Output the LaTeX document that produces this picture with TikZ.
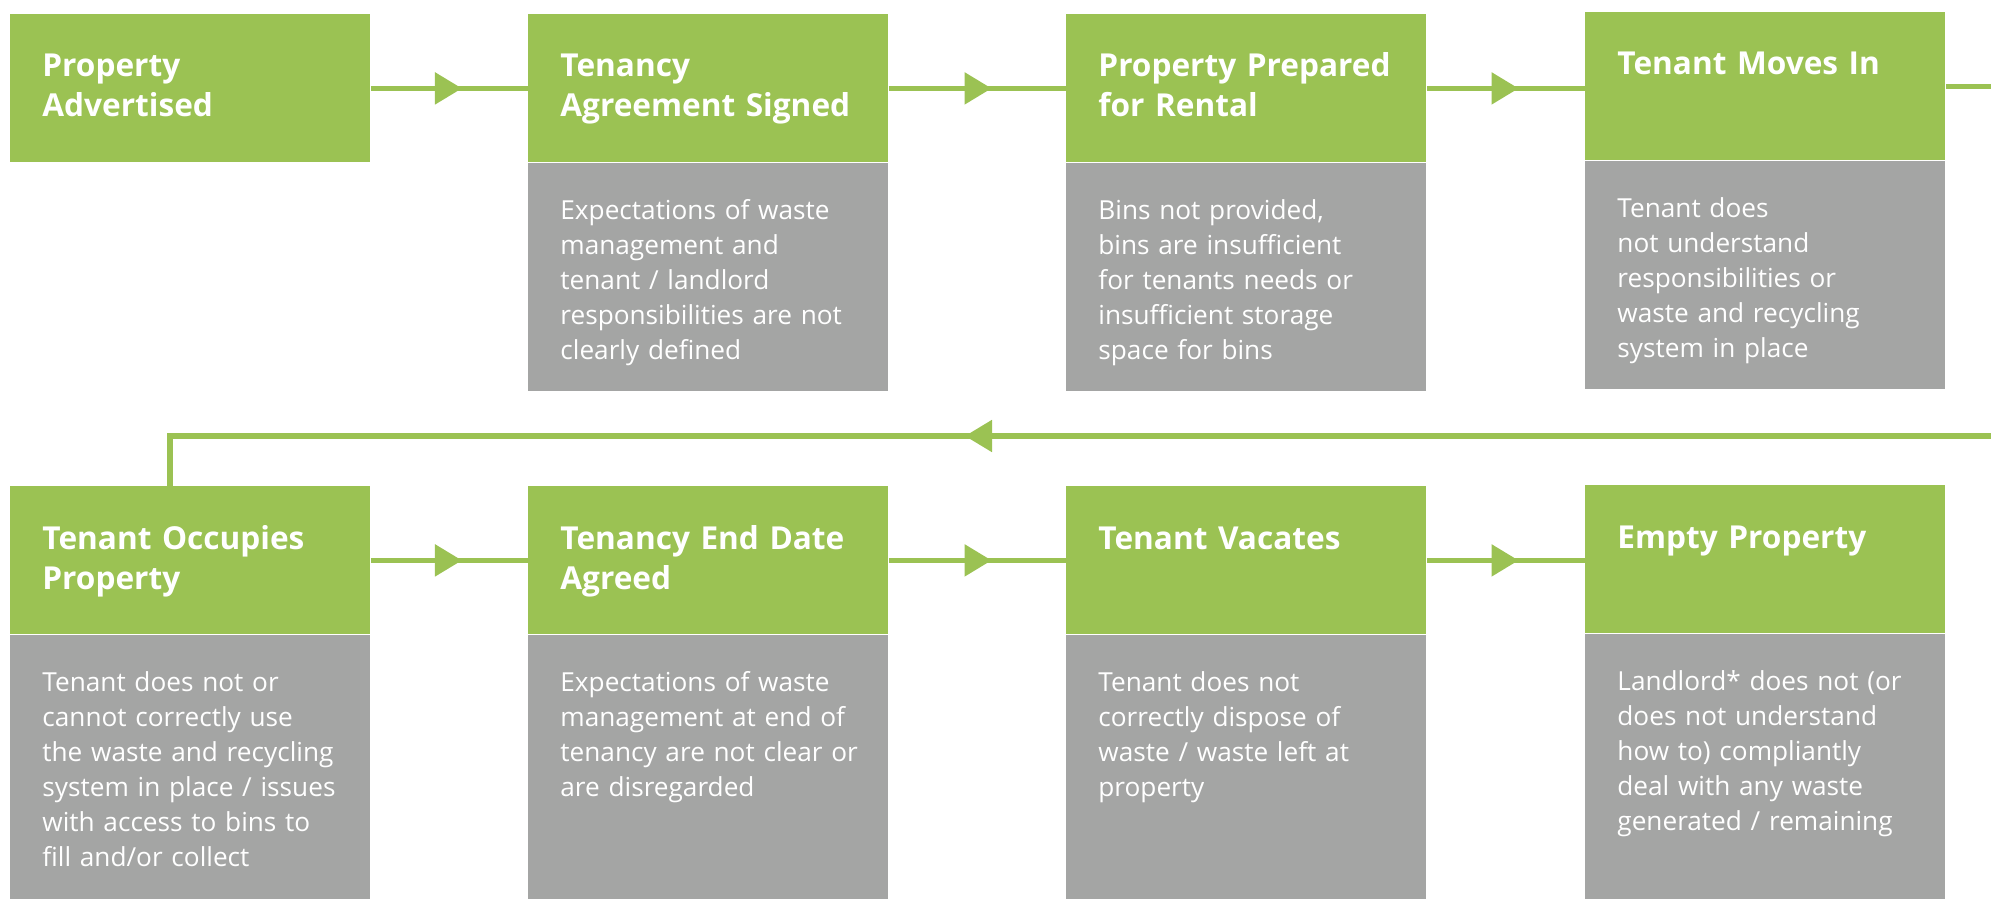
\documentclass[tikz,border=0pt]{standalone}
\usepackage{fontspec}
\setmainfont{Open Sans}
\usetikzlibrary{arrows.meta}
\usetikzlibrary{decorations.markings}
\definecolor{lgreen}{RGB}{155,194,83}
\definecolor{lgrey}{RGB}{164,165,164}
\tikzset{
      headbox/.style={anchor=north west, fill=lgreen, draw=none, inner sep=0,
            minimum width=180pt, minimum height=74pt},
      notebox/.style={anchor=north west, fill=lgrey, draw=none, inner sep=0,
            minimum width=180pt},
      headtext/.style={anchor=base west, inner sep=0, text=white, text width=170pt,
            align=left, font=\fontsize{15.8pt}{20pt}\selectfont\bfseries},
      notetext/.style={anchor=base west, inner sep=0, text=white, text width=170pt,
            align=left, font=\fontsize{13.1pt}{17.5pt}\selectfont},
      flow/.style={draw=lgreen, line width=2.6pt, postaction={decorate},
            decoration={markings,mark=at position .58 with {\arrow[lgreen]{Triangle[length=13.5pt,width=15.5pt]}}}},
      backflow/.style={draw=lgreen, line width=2.6pt, postaction={decorate},
            decoration={markings,mark=at position 513pt with {\arrow[lgreen]{Triangle[length=13.5pt,width=15.5pt]}}}},
      line/.style={draw=lgreen, line width=2.6pt},
}
\begin{document}
\begin{tikzpicture}[x=0.5pt,y=-0.5pt]

        \useasboundingbox (0,0) rectangle (1991,899);

        % top row
        \node[headbox] (advert) at (10,14) {};
        \node[headbox] (signed) at (528,14) {};
        \node[headbox] (prepared) at (1066,14) {};
        \node[headbox] (movein) at (1585,12) {};
        \node[notebox, minimum height=114pt] (signednote) at (signed.south west) {};
        \node[notebox, minimum height=114pt] (preparednote) at (prepared.south west) {};
        \node[notebox, minimum height=114pt] (moveinnote) at (movein.south west) {};

        \node[headtext] (advert-t) at ([shift={(32,63)}]advert.north west) {Property\\Advertised};
        \node[headtext] (signed-t) at ([shift={(32,63)}]signed.north west) {Tenancy\\Agreement Signed};
        \node[headtext] (prepared-t) at ([shift={(32,63)}]prepared.north west) {Property Prepared\\for Rental};
        \node[headtext] (movein-t) at ([shift={(32,63)}]movein.north west) {Tenant Moves In};

        \node[notetext] (signednote-t) at ([shift={(32,57)}]signednote.north west)
              {Expectations of waste\\management and\\tenant / landlord\\responsibilities are not\\clearly defined};
        \node[notetext] (preparednote-t) at ([shift={(32,57)}]preparednote.north west)
              {Bins not provided,\\bins are insufficient\\for tenants needs or\\insufficient storage\\space for bins};
        \node[notetext] (moveinnote-t) at ([shift={(32,57)}]moveinnote.north west)
              {Tenant does\\not understand\\responsibilities or\\waste and recycling\\system in place};

        % bottom row
        \node[headbox] (occupy) at (10,486) {};
        \node[headbox] (enddate) at (528,486) {};
        \node[headbox] (vacate) at (1066,486) {};
        \node[headbox] (empty) at (1585,485) {};
        \node[notebox, minimum height=133pt] (occupynote) at (occupy.south west) {};
        \node[notebox, minimum height=133pt] (enddatenote) at (enddate.south west) {};
        \node[notebox, minimum height=133pt] (vacatenote) at (vacate.south west) {};
        \node[notebox, minimum height=134pt] (emptynote) at (empty.south west) {};

        \node[headtext] (occupy-t) at ([shift={(32,63)}]occupy.north west) {Tenant Occupies\\Property};
        \node[headtext] (enddate-t) at ([shift={(32,63)}]enddate.north west) {Tenancy End Date\\Agreed};
        \node[headtext] (vacate-t) at ([shift={(32,63)}]vacate.north west) {Tenant Vacates};
        \node[headtext] (empty-t) at ([shift={(32,63)}]empty.north west) {Empty Property};

        \node[notetext] (occupynote-t) at ([shift={(32,57)}]occupynote.north west)
              {Tenant does not or\\cannot correctly use\\the waste and recycling\\system in place / issues\\with access to bins to\\fill and/or collect};
        \node[notetext] (enddatenote-t) at ([shift={(32,57)}]enddatenote.north west)
              {Expectations of waste\\management at end of\\tenancy are not clear or\\are disregarded};
        \node[notetext] (vacatenote-t) at ([shift={(32,57)}]vacatenote.north west)
              {Tenant does not\\correctly dispose of\\waste / waste left at\\property};
        \node[notetext] (emptynote-t) at ([shift={(32,57)}]emptynote.north west)
              {Landlord* does not (or\\does not understand\\how to) compliantly\\deal with any waste\\generated / remaining};

        % connectors
        \coordinate (edgeR) at (1991,0) ;
        \coordinate (wrapR) at (1991,436) ;
        \coordinate (wrapL) at (170,436) ;

        \draw[flow] (advert.east) -- (signed.west) ;
        \draw[flow] (signed.east) -- (prepared.west) ;
        \draw[flow] (prepared.east) -- (prepared.east -| movein.west) ;
        \draw[line] (movein.east) -- (movein.east -| edgeR) ;

        \draw[backflow] (wrapR) -- (wrapL) -- (wrapL |- occupy.north) ;

        \draw[flow] (occupy.east) -- (enddate.west) ;
        \draw[flow] (enddate.east) -- (vacate.west) ;
        \draw[flow] (vacate.east) -- (vacate.east -| empty.west) ;

    \end{tikzpicture}
\end{document}
